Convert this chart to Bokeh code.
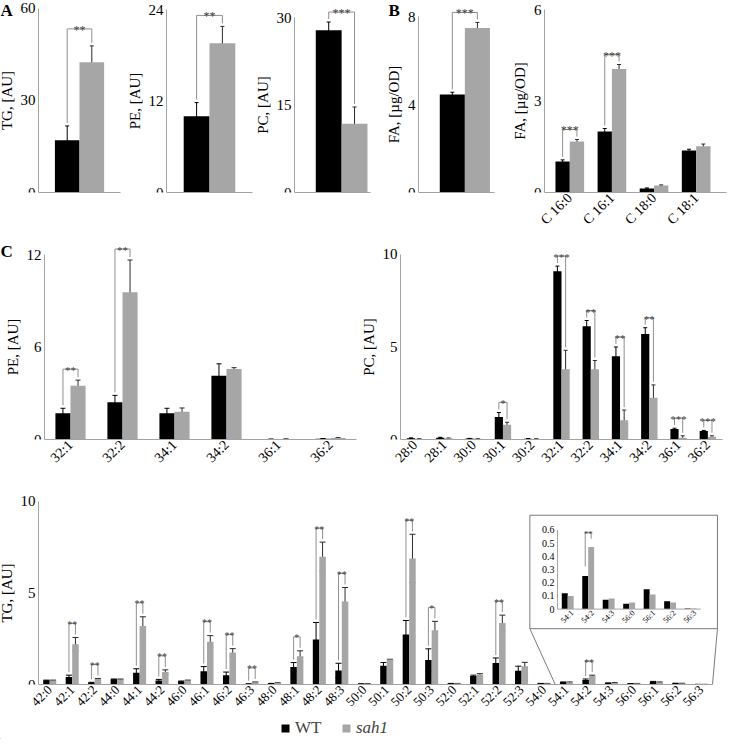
import math
import numpy as np
from bokeh.plotting import figure
from bokeh.layouts import row, column
from bokeh.models import (ColumnDataSource, Range1d, FixedTicker, Legend,
                          LegendItem, Whisker, TeeHead)
from bokeh.core.properties import value
from bokeh.embed import file_html
from bokeh.resources import INLINE

# ------------------------- data -------------------------
# A: lipid classes [AU]
a_classes = ["TG", "PE", "PC"]
a_wt = [17.0, 10.0, 27.9]
a_wt_err = [4.7, 1.8, 1.4]
a_sah1 = [42.5, 19.6, 11.8]
a_sah1_err = [5.3, 2.2, 2.9]
a_sig = ["**", "**", "***"]
a_ticks = [[0, 30, 60], [0, 12, 24], [0, 15, 30]]

# B: fatty acids [µg/OD]
b_total_wt = [4.47]
b_total_wt_err = [0.10]
b_total_sah1 = [7.50]
b_total_sah1_err = [0.25]
b_total_sig = ["***"]
b_total_ticks = [0, 4, 8]

b_species = ["C 16:0", "C 16:1", "C 18:0", "C 18:1"]
b_wt = [1.02, 2.00, 0.13, 1.38]
b_wt_err = [0.05, 0.10, 0.02, 0.04]
b_sah1 = [1.67, 4.05, 0.23, 1.52]
b_sah1_err = [0.07, 0.15, 0.02, 0.07]
b_sig = ["***", "***", "", ""]
b_ticks = [0, 3, 6]

# C: PE species [AU]
pe_species = ["32:1", "32:2", "34:1", "34:2", "36:1", "36:2"]
pe_wt = [1.71, 2.42, 1.71, 4.15, 0.02, 0.05]
pe_wt_err = [0.32, 0.45, 0.32, 0.77, 0.005, 0.01]
pe_sah1 = [3.49, 9.57, 1.80, 4.58, 0.03, 0.10]
pe_sah1_err = [0.37, 2.10, 0.25, 0.09, 0.005, 0.02]
pe_sig = ["**", "**", "", "", "", ""]
pe_ticks = [0, 6, 12]

# C: PC species [AU]
pc_species = ["28:0", "28:1", "30:0", "30:1", "30:2", "32:1", "32:2",
              "34:1", "34:2", "36:1", "36:2"]
pc_wt = [0.07, 0.10, 0.05, 1.21, 0.04, 9.09, 6.12, 4.50, 5.70, 0.57, 0.46]
pc_wt_err = [0.02, 0.02, 0.01, 0.25, 0.01, 0.28, 0.31, 0.50, 0.34, 0.04, 0.03]
pc_sah1 = [0.04, 0.07, 0.04, 0.80, 0.03, 3.80, 3.80, 1.04, 2.25, 0.10, 0.15]
pc_sah1_err = [0.01, 0.01, 0.01, 0.13, 0.01, 1.02, 0.47, 0.55, 0.70, 0.10, 0.05]
pc_sig = ["", "", "", "*", "", "***", "**", "**", "**", "***", "***"]
pc_ticks = [0, 5, 10]

# C: TG species [AU]
tg_species = ["42:0", "42:1", "42:2", "44:0", "44:1", "44:2", "46:0", "46:1",
              "46:2", "46:3", "48:0", "48:1", "48:2", "48:3", "50:0", "50:1",
              "50:2", "50:3", "52:0", "52:1", "52:2", "52:3", "54:0", "54:1",
              "54:2", "54:3", "56:0", "56:1", "56:2", "56:3"]
tg_wt = [0.22, 0.41, 0.10, 0.28, 0.64, 0.22, 0.17, 0.73, 0.50, 0.03,
         0.05, 0.96, 2.46, 0.77, 0.03, 1.02, 2.73, 1.34, 0.05, 0.46,
         1.18, 0.75, 0.05, 0.12, 0.25, 0.07, 0.04, 0.15, 0.06, 0.005]
tg_wt_err = [0.02, 0.10, 0.02, 0.02, 0.22, 0.06, 0.02, 0.25, 0.18, 0.01,
             0.01, 0.24, 0.93, 0.39, 0.01, 0.18, 0.77, 0.61, 0.01, 0.05,
             0.27, 0.25, 0.01, 0.02, 0.05, 0.02, 0.01, 0.02, 0.01, 0.002]
tg_sah1 = [0.22, 2.20, 0.30, 0.28, 3.20, 0.68, 0.22, 2.34, 1.75, 0.12,
           0.08, 1.54, 6.98, 4.54, 0.04, 1.36, 6.89, 2.96, 0.05, 0.54,
           3.36, 1.00, 0.05, 0.10, 0.47, 0.08, 0.05, 0.11, 0.05, 0.005]
tg_sah1_err = [0.02, 0.37, 0.03, 0.02, 0.50, 0.12, 0.02, 0.33, 0.21, 0.02,
               0.01, 0.30, 0.80, 0.76, 0.01, 0.02, 1.32, 0.49, 0.01, 0.05,
               0.43, 0.21, 0.01, 0.04, 0.04, 0.025, 0.01, 0.03, 0.02, 0.002]
tg_sig = ["", "**", "**", "", "**", "**", "", "**", "**", "**",
          "", "*", "**", "**", "", "", "**", "*", "", "",
          "**", "", "", "", "**", "", "", "", "", ""]
tg_ticks = [0, 5, 10]
inset_first = 23          # 54:1 ... 56:3 are magnified in the inset
inset_ticks = [0, 0.1, 0.2, 0.3, 0.4, 0.5, 0.6]
inset_tick_labels = ["0", "0.1", "0.2", "0.3", "0.4", "0.5", "0.6"]

series_names = ["WT", "sah1"]
panel_letters = ["A", "B", "C"]

# ------------------------- style -------------------------
FONT = "'Liberation Serif', 'Times New Roman', serif"
BLACK = "#000000"
GRAY = "#a6a6a6"
AXIS = "#a3a3a3"
BRACKET = "#8f8f8f"
ERR_G = "#2a2a2a"
STAR = "#3a3a3a"


def draw_series(p, x, wt, wt_err, sah, sah_err, sig, bw, ppu, br_px, sfs, cap,
                rn=None, lw=1):
    kw = {} if rn is None else dict(x_range_name=rn[0], y_range_name=rn[1])
    x = np.asarray(x, float)
    wt, wt_err = np.asarray(wt, float), np.asarray(wt_err, float)
    sah, sah_err = np.asarray(sah, float), np.asarray(sah_err, float)
    xb, xg = x - bw / 2, x + bw / 2
    p.vbar(x=xb, top=wt, bottom=0, width=bw, fill_color=BLACK, line_color=None, **kw)
    p.vbar(x=xg, top=sah, bottom=0, width=bw, fill_color=GRAY, line_color=None, **kw)
    for xs, v, e, col in ((xb, wt, wt_err, BLACK), (xg, sah, sah_err, ERR_G)):
        src = ColumnDataSource(dict(base=xs, lower=np.maximum(v - e, 0), upper=v + e))
        p.add_layout(Whisker(source=src, base="base", lower="lower", upper="upper",
                             line_color=col, line_width=lw,
                             upper_head=TeeHead(size=cap, line_color=col, line_width=lw),
                             lower_head=TeeHead(size=cap, line_color=col, line_width=lw),
                             **kw))
    gap = 3.0 / ppu
    bxs, bys, sx, sy, st = [], [], [], [], []
    for i, s in enumerate(sig):
        if not s:
            continue
        tb = wt[i] + wt_err[i]
        tg = sah[i] + sah_err[i]
        top = max(tb, tg) + br_px / ppu
        bxs.append([xb[i], xb[i], xg[i], xg[i]])
        bys.append([tb + gap, top, top, tg + gap])
        sx.append(x[i])
        sy.append(top - 1.0 / ppu)
        st.append(s)
    if bxs:
        p.multi_line(xs=bxs, ys=bys, line_color=BRACKET, line_width=1, **kw)
        p.text(x=sx, y=sy, text=st, text_align="center", text_baseline="alphabetic",
               text_font=value(FONT), text_font_size=sfs, text_color=STAR, **kw)


def make_panel(cats, wt, wt_err, sah, sah_err, sig, yticks, ylabel, *, W, fh, bb,
               ax_px, right_px, x0, x1, y_end, bw, br_px=11, show_x=True, xfs="14px",
               yfs="15px", lfs="15px", sfs="12px", cap=4, letter=None, letter_dy=0):
    """The frame spans the whole figure width; the y axis sits at ax_px (fixed)."""
    n = len(cats)
    x = np.arange(n, dtype=float)
    dpp = (x1 - x0) / (right_px - ax_px)
    xs, xe = x0 - ax_px * dpp, x0 + (W - ax_px) * dpp
    p = figure(frame_width=W, frame_height=fh, min_border_left=0, min_border_right=0,
               min_border_top=0, min_border_bottom=bb,
               x_range=Range1d(xs, xe), y_range=Range1d(0, y_end),
               output_backend="svg", toolbar_location=None)
    p.xgrid.visible = False
    p.ygrid.visible = False
    p.outline_line_color = None
    ppu = fh / y_end
    draw_series(p, x, wt, wt_err, sah, sah_err, sig, bw, ppu, br_px, sfs, cap)

    ya = p.yaxis[0]
    ya.fixed_location = x0
    ya.ticker = FixedTicker(ticks=yticks)
    ya.bounds = (0, yticks[-1])
    ya.axis_line_color = AXIS
    ya.major_tick_line_color = None
    ya.minor_tick_line_color = None
    ya.major_tick_out = 0
    ya.major_tick_in = 0
    ya.major_label_standoff = 3
    ya.major_label_text_font = FONT
    ya.major_label_text_font_size = yfs
    ya.major_label_text_color = "#000000"
    ya.axis_label = ylabel
    ya.axis_label_text_font = FONT
    ya.axis_label_text_font_size = lfs
    ya.axis_label_text_font_style = "normal"
    ya.axis_label_text_color = "#000000"
    ya.axis_label_standoff = 3

    xa = p.xaxis[0]
    xa.bounds = (x0, x1)
    xa.axis_line_color = AXIS
    xa.major_tick_line_color = None
    xa.minor_tick_line_color = None
    xa.major_tick_out = 0
    xa.major_tick_in = 0
    if show_x:
        xa.ticker = FixedTicker(ticks=list(range(n)))
        xa.major_label_overrides = {i: c for i, c in enumerate(cats)}
        xa.major_label_orientation = math.pi / 4
        xa.major_label_standoff = 3
        xa.major_label_text_font = FONT
        xa.major_label_text_font_size = xfs
        xa.major_label_text_color = "#000000"
    else:
        xa.ticker = FixedTicker(ticks=[])
        xa.major_label_text_font_size = "0px"
    if letter is not None:
        lx, ltext = letter
        p.text(x=[xs + lx * dpp], y=[y_end - letter_dy / ppu], text=[ltext],
               text_align="left", text_baseline="top", text_font=value(FONT),
               text_font_style="bold", text_font_size="17px", text_color="#000000")
    return p, dpp, ppu


# ------------------------- row 1: A and B -------------------------
FH1, BB1 = 192, 44
a_geom = [  # width, axis px, plot-right px, x0, x1, bar width, y_end, bracket px
    (126, 38, 120, -0.5, 0.5, 0.30, 62.6, 17),
    (128, 40, 126, -0.5, 0.5, 0.30, 25.2, 11),
    (118, 40, 116, -0.62, 0.38, 0.34, 33.0, 10),
]
pA = []
for i, (W, axp, rp, x0, x1, bw, ye, bp) in enumerate(a_geom):
    p, _, _ = make_panel([a_classes[i]], a_wt[i:i + 1], a_wt_err[i:i + 1],
                         a_sah1[i:i + 1], a_sah1_err[i:i + 1], a_sig[i:i + 1],
                         a_ticks[i], f"{a_classes[i]}, [AU]", W=W, fh=FH1, bb=BB1,
                         ax_px=axp, right_px=rp, x0=x0, x1=x1, y_end=ye, bw=bw,
                         br_px=bp, show_x=False,
                         letter=(0, panel_letters[0]) if i == 0 else None)
    pA.append(p)

pB1, _, _ = make_panel(["FA"], b_total_wt, b_total_wt_err, b_total_sah1,
                       b_total_sah1_err, b_total_sig, b_total_ticks, "FA, [µg/OD]",
                       W=126, fh=FH1, bb=BB1, ax_px=46, right_px=122, x0=-0.61, x1=0.39,
                       y_end=8.75, bw=0.33, br_px=10, show_x=False,
                       letter=(16, panel_letters[1]))

pB2, _, _ = make_panel(b_species, b_wt, b_wt_err, b_sah1, b_sah1_err, b_sig, b_ticks,
                       "FA, [µg/OD]", W=230, fh=FH1, bb=BB1, ax_px=46, right_px=228,
                       x0=-0.6, x1=3.72, y_end=6.3, bw=0.34, br_px=10, xfs="14px")

# ------------------------- row 2: C (PE, PC) -------------------------
FH2, BB2 = 203, 30
pPE, _, _ = make_panel(pe_species, pe_wt, pe_wt_err, pe_sah1, pe_sah1_err, pe_sig,
                       pe_ticks, "PE, [AU]", W=360, fh=FH2, bb=BB2, ax_px=44,
                       right_px=356, x0=-0.5, x1=5.5, y_end=13.2, bw=0.29, br_px=11,
                       sfs="11px", cap=5, letter=(0, panel_letters[2]), letter_dy=5)

pPC, _, _ = make_panel(pc_species, pc_wt, pc_wt_err, pc_sah1, pc_sah1_err, pc_sig,
                       pc_ticks, "PC, [AU]", W=368, fh=FH2, bb=BB2, ax_px=40,
                       right_px=362, x0=-0.5, x1=10.5, y_end=10.97, bw=0.28, br_px=10,
                       sfs="11px", cap=4)

# ------------------------- row 3: TG with inset -------------------------
FH3, BB3, W3 = 211, 30, 728
TG_Y_END = 11.53
pTG, dpp_tg, ppu_tg = make_panel(tg_species, tg_wt, tg_wt_err, tg_sah1, tg_sah1_err,
                                 tg_sig, tg_ticks, "TG, [AU]", W=W3, fh=FH3, bb=BB3,
                                 ax_px=38, right_px=712, x0=-0.5,
                                 x1=len(tg_species) - 0.5, y_end=TG_Y_END, bw=0.29,
                                 br_px=14, xfs="13px", sfs="10px", cap=6)
TG_X_START = pTG.x_range.start
TG_X_END = pTG.x_range.end

# inset placement, expressed in the main plot's data space
BOX_L, BOX_R, BOX_B, BOX_T = 21.37, 29.72, 3.05, 9.25
IX0_MAIN, IX1_MAIN = 22.6, 28.98       # main-x of inset x = -0.5 and 6.5
IY0_MAIN, IY1_MAIN = 4.12, 8.45        # main-y of inset y = 0 and 0.6
n_in = len(tg_species) - inset_first
bx = (IX1_MAIN - IX0_MAIN) / n_in
ax = IX0_MAIN + 0.5 * bx
by = (IY1_MAIN - IY0_MAIN) / inset_ticks[-1]
ay = IY0_MAIN
pTG.extra_x_ranges = {"ix": Range1d((TG_X_START - ax) / bx, (TG_X_END - ax) / bx)}
pTG.extra_y_ranges = {"iy": Range1d((0 - ay) / by, (TG_Y_END - ay) / by)}

pTG.quad(left=[BOX_L], right=[BOX_R], bottom=[BOX_B], top=[BOX_T], fill_color="white",
         line_color="#7a7a7a", line_width=1)
pTG.segment(x0=[BOX_L, BOX_R], y0=[BOX_B, BOX_B],
            x1=[inset_first - 0.5, len(tg_species) - 0.5], y1=[0, 0],
            line_color="#7a7a7a", line_width=1)

sl = slice(inset_first, None)
xi = np.arange(n_in, dtype=float)
ippu = ppu_tg * by
draw_series(pTG, xi, tg_wt[sl], tg_wt_err[sl], tg_sah1[sl], tg_sah1_err[sl], tg_sig[sl],
            0.29, ippu, 9, "9px", 5, rn=("ix", "iy"), lw=1.5)
# inset axes
pTG.segment(x0=[-0.5, -0.5], y0=[0, 0], x1=[-0.5, n_in - 0.5],
            y1=[inset_ticks[-1], 0], line_color=AXIS, line_width=1,
            x_range_name="ix", y_range_name="iy")
pTG.text(x=[-0.5 - 3.0 * dpp_tg / bx] * len(inset_ticks), y=inset_ticks,
         text=inset_tick_labels, text_align="right", text_baseline="middle",
         text_font=value(FONT), text_font_size="10px", text_color="#000000",
         x_range_name="ix", y_range_name="iy")
pTG.text(x=xi + 0.22, y=[-0.02] * n_in, text=tg_species[sl], angle=math.pi / 4,
         text_align="right", text_baseline="middle", text_font=value(FONT),
         text_font_size="8px", text_color="#000000",
         x_range_name="ix", y_range_name="iy")

# ------------------------- legend row -------------------------
pL = figure(width=728, height=22, min_border=0, x_range=Range1d(0, 728),
            y_range=Range1d(0, 22), x_axis_type=None, y_axis_type=None,
            output_backend="svg", toolbar_location=None)
pL.outline_line_color = None
pL.xgrid.visible = False
pL.ygrid.visible = False
# off-range glyphs: only their legend swatches are seen
rw = pL.vbar(x=[-100], top=[1], width=1, fill_color=BLACK, line_color=None)
rs = pL.vbar(x=[-100], top=[1], width=1, fill_color=GRAY, line_color=None)
for name, rend, loc, style in ((series_names[0], rw, (280, 1), "normal"),
                               (series_names[1], rs, (341, 1), "italic")):
    lg = Legend(items=[LegendItem(label=name, renderers=[rend])], location=loc,
                orientation="horizontal", label_text_font=FONT,
                label_text_font_size="17px", label_text_font_style=style,
                glyph_width=10, glyph_height=10, label_standoff=5, padding=0,
                margin=0, border_line_color=None, background_fill_alpha=0)
    pL.add_layout(lg, "center")

layout = column(row(*pA, pB1, pB2), row(pPE, pPC), pTG, pL)
open("out.html", "w").write(file_html(layout, INLINE))
